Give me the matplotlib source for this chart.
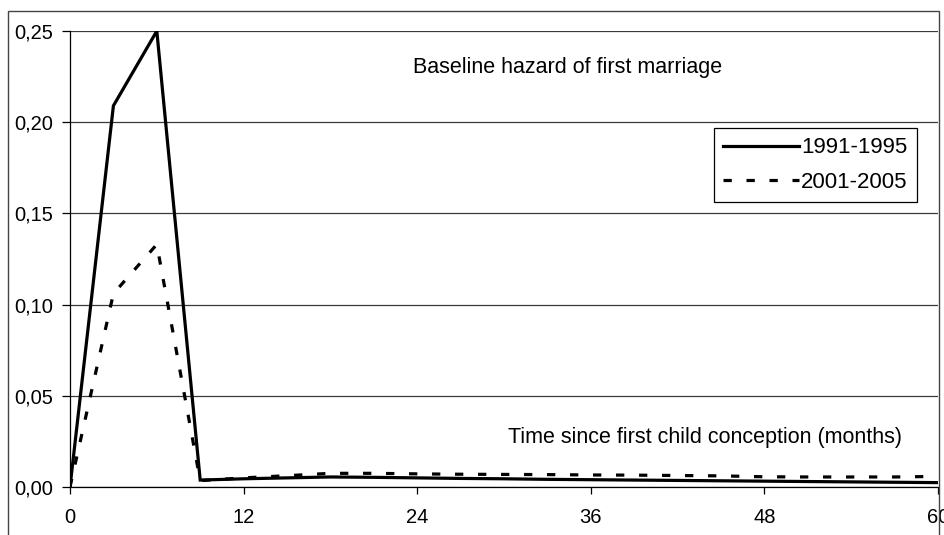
import numpy as np
import matplotlib
matplotlib.use('Agg')
import matplotlib.pyplot as plt
from matplotlib.patches import Rectangle
from matplotlib.ticker import FuncFormatter

plt.rcParams['font.family'] = ['Liberation Sans', 'DejaVu Sans']

# months since first child conception
months = [0, 3, 6, 9, 12, 15, 18, 21, 24, 27, 30, 33, 36, 39, 42, 45, 48, 51, 54, 57, 60]

# baseline hazard, 1991-1995
haz_1991 = [0.0, 0.209, 0.250, 0.0038, 0.0045, 0.0050, 0.0055, 0.0053, 0.0050,
            0.0047, 0.0045, 0.0042, 0.0040, 0.0038, 0.0036, 0.0034, 0.0032,
            0.0030, 0.0028, 0.0026, 0.0024]
# baseline hazard, 2001-2005
haz_2001 = [0.0, 0.106, 0.133, 0.0035, 0.0050, 0.0062, 0.0075, 0.0075, 0.0072,
            0.0070, 0.0069, 0.0068, 0.0066, 0.0065, 0.0063, 0.0061, 0.0056,
            0.0055, 0.0055, 0.0055, 0.0058]

series_labels = ['1991-1995', '2001-2005']
xticks = [0, 12, 24, 36, 48, 60]
yticks = [0.0, 0.05, 0.10, 0.15, 0.20, 0.25]

fig = plt.figure(figsize=(9.44, 5.35), dpi=100)
ax = fig.add_axes([70/944, 48/535, 868/944, 456/535])

ax.plot(months, haz_1991, color='black', lw=2.3, solid_joinstyle='miter',
        label=series_labels[0], zorder=3)
ax.plot(months, haz_2001, color='black', lw=2.3, linestyle=(0, (2.6, 4.6)),
        dash_capstyle='butt', label=series_labels[1], zorder=3)

ax.set_xlim(0, 60)
ax.set_ylim(0, 0.25)
ax.set_xticks(xticks)
ax.set_yticks(yticks)
ax.yaxis.set_major_formatter(FuncFormatter(lambda v, p: ('%.2f' % v).replace('.', ',')))

# horizontal gridlines like excel
ax.grid(axis='y', color='#3a3a3a', lw=0.9, zorder=1)
ax.set_axisbelow(True)

for s in ['top', 'right']:
    ax.spines[s].set_visible(False)
ax.spines['left'].set_color('black')
ax.spines['bottom'].set_color('black')
ax.spines['left'].set_linewidth(0.9)
ax.spines['bottom'].set_linewidth(0.9)

ax.tick_params(axis='y', direction='out', length=5.5, width=0.9, pad=7, labelsize=14.5)
ax.tick_params(axis='x', direction='out', length=5, width=0.9, pad=10, labelsize=14.5)

ax.text(0.395, 0.921, 'Baseline hazard of first marriage', transform=ax.transAxes,
        ha='left', va='center', fontsize=15.5)
ax.text(0.5046, 0.1075, 'Time since first child conception (months)', transform=ax.transAxes,
        ha='left', va='center', fontsize=15.5)

leg = ax.legend(loc='upper right', bbox_to_anchor=(0.9758, 0.787), borderaxespad=0,
                fontsize=16, handlelength=3.4, handletextpad=0.1, labelspacing=0.6,
                borderpad=0.42, fancybox=False, framealpha=1, edgecolor='black')
leg.get_frame().set_linewidth(0.9)

# outer chart frame
fig.patches.append(Rectangle((8/944, -0.05), 931/944, (535 - 10.7)/535 + 0.05,
                             transform=fig.transFigure, fill=False,
                             edgecolor='#444444', lw=1.0, zorder=0))

fig.savefig('out.png', dpi=100)
